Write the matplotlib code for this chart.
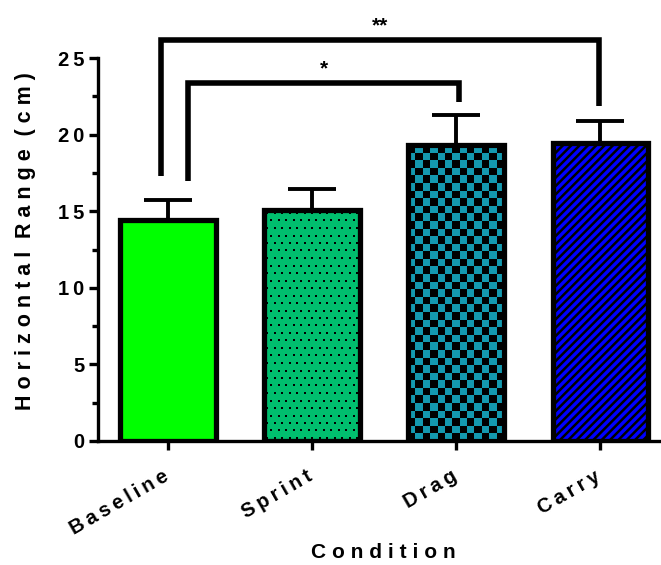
import numpy as np
import matplotlib
matplotlib.use("Agg")
import matplotlib.pyplot as plt
from matplotlib.ticker import MultipleLocator
from matplotlib.colors import ListedColormap
from matplotlib.transforms import ScaledTranslation

# ---- data ----
conditions = ["Baseline", "Sprint", "Drag", "Carry"]
means = [14.4, 15.05, 19.3, 19.45]
sem = [1.35, 1.42, 1.97, 1.44]
y_ticks = [0, 5, 10, 15, 20, 25]

# significance brackets: (left x, right x, top y, left leg bottom, right leg bottom, label)
brackets = [
    (0.14, 2.02, 23.35, 17.0, 22.1, "*"),
    (-0.05, 2.99, 26.2, 17.3, 21.85, "**"),
]

face_colors = ["#00FF00", "#00BE6E", "#1499AF", "#0000FF"]

FONT = ["Liberation Sans", "DejaVu Sans"]
plt.rcParams["font.family"] = FONT
plt.rcParams["font.weight"] = "bold"
plt.rcParams["hatch.linewidth"] = 1.8

THIN = "\u2009"
HAIR = "\u200a"


def spaced(text, gap=THIN, word_gap=None):
    """Tracked lettering: a narrow gap between letters, a wider one between words."""
    if word_gap is None:
        word_gap = gap * 2
    return word_gap.join(gap.join(w) for w in text.split(" "))


fig = plt.figure(figsize=(6.61, 5.65), dpi=100)
W, H = 661, 565
ax = fig.add_axes([97.5 / W, 1 - 441 / H, 1 - 97.5 / W, (441 - 58) / H])

x = np.arange(len(conditions))
bar_w = 0.665
ax.set_xlim(-0.49, 3.42)
ax.set_ylim(0, 25)

# error bars (upper only)
ax.errorbar(x, means, yerr=[np.zeros(len(sem)), sem], fmt="none", ecolor="black",
            elinewidth=2.8, capsize=17, capthick=2.8, zorder=1)

bars = ax.bar(x, means, width=bar_w, color=face_colors, edgecolor="black",
              linewidth=3.7, zorder=2)
bars[3].set_hatch("////")

fig.canvas.draw()


def bar_pixels(bar):
    x0, y0 = bar.get_x(), bar.get_y()
    x1, y1 = x0 + bar.get_width(), y0 + bar.get_height()
    p0 = ax.transData.transform((x0, y0))
    p1 = ax.transData.transform((x1, y1))
    return (x0, y0, x1, y1), p0, p1


# checkerboard texture for the Drag bar
(x0, y0, x1, y1), p0, p1 = bar_pixels(bars[2])
cell = 7.5
nx = max(1, int(round(abs(p1[0] - p0[0]) / cell)))
ny = max(1, int(round(abs(p1[1] - p0[1]) / cell)))
checker = (np.add.outer(np.arange(ny), np.arange(nx)) % 2).astype(float)
cmap = ListedColormap(["black", face_colors[2]])
im = ax.imshow(checker, extent=(x0, x1, y0, y1), origin="lower", cmap=cmap,
               aspect="auto", interpolation="nearest", zorder=2.5)
im.set_clip_path(bars[2])

# staggered dot texture for the Sprint bar
(_, _, _, _), p0, p1 = bar_pixels(bars[1])
pitch = 7.5
pts = []
for r, py in enumerate(np.arange(p0[1] + 3, p1[1], pitch)):
    off = 3 + (pitch / 2 if r % 2 else 0)
    for px in np.arange(p0[0] + off, p1[0], pitch):
        pts.append((px, py))
pts = ax.transData.inverted().transform(np.array(pts))
dots = ax.scatter(pts[:, 0], pts[:, 1], s=2.4, marker="s", color="black",
                  linewidths=0, zorder=2.5)
dots.set_clip_path(bars[1])

# outlines on top of all fills
ax.bar(x, means, width=bar_w, fill=False, edgecolor="black", linewidth=3.7, zorder=3)

ax.set_xlim(-0.49, 3.42)
ax.set_ylim(0, 25)

# brackets
for xl, xr, yt, yl, yr, lab in brackets:
    ax.plot([xl, xl, xr, xr], [yl, yt, yt, yr], color="black", lw=4.0,
            solid_joinstyle="miter", solid_capstyle="butt", clip_on=False, zorder=4)
    ax.text((xl + xr) / 2, yt + 0.3, lab, ha="center", va="bottom",
            fontsize=15, fontweight="bold", clip_on=False)

# axes styling
for s in ("top", "right"):
    ax.spines[s].set_visible(False)
for s in ("left", "bottom"):
    ax.spines[s].set_linewidth(2.4)

ax.set_yticks(y_ticks)
ax.set_yticklabels([spaced(str(t)) for t in y_ticks], fontsize=14.5, fontweight="bold")
ax.yaxis.set_minor_locator(MultipleLocator(2.5))
ax.tick_params(axis="y", which="major", length=6.5, width=2.4, pad=3)
ax.tick_params(axis="y", which="minor", length=4, width=2.4)
ax.set_xticks(x)
ax.set_xticklabels([spaced(c) for c in conditions], rotation=30, ha="right",
                   rotation_mode="anchor", fontsize=14.5, fontweight="bold")
ax.tick_params(axis="x", which="major", length=6.5, width=2.4, pad=12)
shift = ScaledTranslation(-6 / 100, 0, fig.dpi_scale_trans)
for lab in ax.get_xticklabels():
    lab.set_transform(lab.get_transform() + shift)

fig.text(383 / W, 1 - 552 / H, spaced("Condition", THIN + HAIR), ha="center",
         va="center", fontsize=15, fontweight="bold")
fig.text(26 / W, 1 - 241 / H, spaced("Horizontal Range (cm)", THIN + HAIR, THIN * 3),
         ha="center", va="center", rotation=90, fontsize=15.5, fontweight="bold")

fig.savefig("out.png", dpi=100)
